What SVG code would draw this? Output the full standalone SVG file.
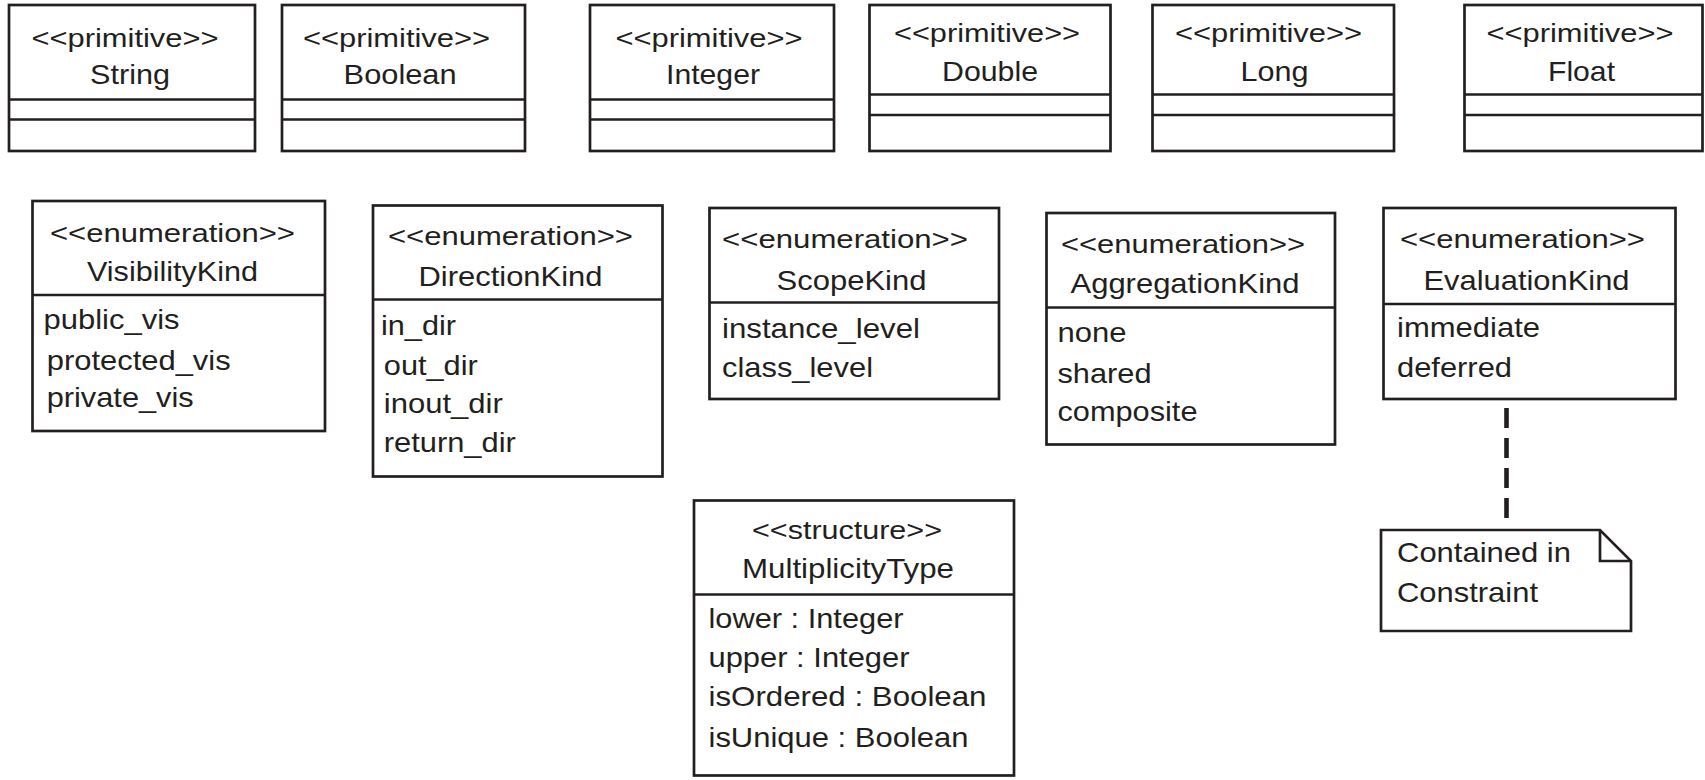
<svg xmlns="http://www.w3.org/2000/svg" width="1705" height="780" viewBox="0 0 1705 780">
  <style>
    .box { fill: #ffffff; stroke: #231f20; stroke-width: 2.7; }
    .div { fill: none; stroke: #231f20; stroke-width: 2.7; }
    text { font-family: "Liberation Sans", Arial, Helvetica, sans-serif; fill: #231f20; }
    .st { font-size: 26px; }
    .nm { font-size: 28px; }
    .at { font-size: 28px; }
    .dep { fill: none; stroke: #231f20; stroke-width: 4.6; stroke-dasharray: 20 10; }
  </style>

  <rect width="1705" height="780" fill="#ffffff"/>

  <!-- primitive types -->
  <g id="String">
    <rect class="box" x="9" y="5" width="246" height="146"/>
    <path class="div" d="M9,99.5 H255 M9,119.5 H255"/>
    <text class="st" x="31.5" y="47" textLength="187" lengthAdjust="spacingAndGlyphs">&lt;&lt;primitive&gt;&gt;</text>
    <text class="nm" x="90" y="84" textLength="80" lengthAdjust="spacingAndGlyphs">String</text>
  </g>
  <g id="Boolean">
    <rect class="box" x="282" y="5" width="243" height="146"/>
    <path class="div" d="M282,99.5 H525 M282,119.5 H525"/>
    <text class="st" x="303" y="47" textLength="187" lengthAdjust="spacingAndGlyphs">&lt;&lt;primitive&gt;&gt;</text>
    <text class="nm" x="343.6" y="84" textLength="113" lengthAdjust="spacingAndGlyphs">Boolean</text>
  </g>
  <g id="Integer">
    <rect class="box" x="590" y="5" width="244" height="146"/>
    <path class="div" d="M590,99.5 H834 M590,119.5 H834"/>
    <text class="st" x="615.5" y="47" textLength="187" lengthAdjust="spacingAndGlyphs">&lt;&lt;primitive&gt;&gt;</text>
    <text class="nm" x="666" y="84" textLength="94" lengthAdjust="spacingAndGlyphs">Integer</text>
  </g>
  <g id="Double">
    <rect class="box" x="869.5" y="5" width="241" height="146"/>
    <path class="div" d="M869.5,94.5 H1110.5 M869.5,115 H1110.5"/>
    <text class="st" x="894" y="42" textLength="186" lengthAdjust="spacingAndGlyphs">&lt;&lt;primitive&gt;&gt;</text>
    <text class="nm" x="942" y="81" textLength="96" lengthAdjust="spacingAndGlyphs">Double</text>
  </g>
  <g id="Long">
    <rect class="box" x="1152.5" y="5" width="241.5" height="146"/>
    <path class="div" d="M1152.5,94.5 H1394 M1152.5,115 H1394"/>
    <text class="st" x="1175" y="42" textLength="187" lengthAdjust="spacingAndGlyphs">&lt;&lt;primitive&gt;&gt;</text>
    <text class="nm" x="1240.5" y="81" textLength="68" lengthAdjust="spacingAndGlyphs">Long</text>
  </g>
  <g id="Float">
    <rect class="box" x="1464.5" y="5" width="238" height="146"/>
    <path class="div" d="M1464.5,94.5 H1702.5 M1464.5,115 H1702.5"/>
    <text class="st" x="1486.5" y="42" textLength="187" lengthAdjust="spacingAndGlyphs">&lt;&lt;primitive&gt;&gt;</text>
    <text class="nm" x="1548" y="81" textLength="67" lengthAdjust="spacingAndGlyphs">Float</text>
  </g>

  <!-- enumerations -->
  <g id="VisibilityKind">
    <rect class="box" x="32.5" y="201" width="292.5" height="230"/>
    <path class="div" d="M32.5,295 H325"/>
    <text class="st" x="50" y="242" textLength="245" lengthAdjust="spacingAndGlyphs">&lt;&lt;enumeration&gt;&gt;</text>
    <text class="nm" x="87" y="281" textLength="171" lengthAdjust="spacingAndGlyphs">VisibilityKind</text>
    <text class="at" x="43.5" y="329" textLength="136" lengthAdjust="spacingAndGlyphs">public_vis</text>
    <text class="at" x="46.7" y="370" textLength="184" lengthAdjust="spacingAndGlyphs">protected_vis</text>
    <text class="at" x="46.7" y="407" textLength="147" lengthAdjust="spacingAndGlyphs">private_vis</text>
  </g>
  <g id="DirectionKind">
    <rect class="box" x="373" y="205.5" width="289.5" height="271"/>
    <path class="div" d="M373,299.5 H662.5"/>
    <text class="st" x="388" y="245" textLength="245" lengthAdjust="spacingAndGlyphs">&lt;&lt;enumeration&gt;&gt;</text>
    <text class="nm" x="418.5" y="286" textLength="184" lengthAdjust="spacingAndGlyphs">DirectionKind</text>
    <text class="at" x="381" y="335" textLength="75" lengthAdjust="spacingAndGlyphs">in_dir</text>
    <text class="at" x="383.8" y="375" textLength="94" lengthAdjust="spacingAndGlyphs">out_dir</text>
    <text class="at" x="383.8" y="413" textLength="119" lengthAdjust="spacingAndGlyphs">inout_dir</text>
    <text class="at" x="383.8" y="452" textLength="132" lengthAdjust="spacingAndGlyphs">return_dir</text>
  </g>
  <g id="ScopeKind">
    <rect class="box" x="709.5" y="208" width="289.5" height="191"/>
    <path class="div" d="M709.5,302.5 H999"/>
    <text class="st" x="722" y="248" textLength="246" lengthAdjust="spacingAndGlyphs">&lt;&lt;enumeration&gt;&gt;</text>
    <text class="nm" x="776.5" y="290" textLength="150" lengthAdjust="spacingAndGlyphs">ScopeKind</text>
    <text class="at" x="722" y="338" textLength="198" lengthAdjust="spacingAndGlyphs">instance_level</text>
    <text class="at" x="722" y="377" textLength="151" lengthAdjust="spacingAndGlyphs">class_level</text>
  </g>
  <g id="AggregationKind">
    <rect class="box" x="1046.5" y="213" width="288.5" height="231.5"/>
    <path class="div" d="M1046.5,307.5 H1335"/>
    <text class="st" x="1061" y="253" textLength="244" lengthAdjust="spacingAndGlyphs">&lt;&lt;enumeration&gt;&gt;</text>
    <text class="nm" x="1070.5" y="293" textLength="229" lengthAdjust="spacingAndGlyphs">AggregationKind</text>
    <text class="at" x="1057.5" y="342" textLength="69" lengthAdjust="spacingAndGlyphs">none</text>
    <text class="at" x="1057.5" y="383" textLength="94" lengthAdjust="spacingAndGlyphs">shared</text>
    <text class="at" x="1057.5" y="421" textLength="140" lengthAdjust="spacingAndGlyphs">composite</text>
  </g>
  <g id="EvaluationKind">
    <rect class="box" x="1383.5" y="208" width="292" height="191"/>
    <path class="div" d="M1383.5,304 H1675.5"/>
    <text class="st" x="1400" y="248" textLength="245" lengthAdjust="spacingAndGlyphs">&lt;&lt;enumeration&gt;&gt;</text>
    <text class="nm" x="1423.5" y="290" textLength="206" lengthAdjust="spacingAndGlyphs">EvaluationKind</text>
    <text class="at" x="1397" y="337" textLength="143" lengthAdjust="spacingAndGlyphs">immediate</text>
    <text class="at" x="1397" y="377" textLength="115" lengthAdjust="spacingAndGlyphs">deferred</text>
  </g>

  <!-- structure -->
  <g id="MultiplicityType">
    <rect class="box" x="694" y="500.5" width="320" height="275"/>
    <path class="div" d="M694,594.5 H1014"/>
    <text class="st" x="752" y="539" textLength="190" lengthAdjust="spacingAndGlyphs">&lt;&lt;structure&gt;&gt;</text>
    <text class="nm" x="742" y="578" textLength="212" lengthAdjust="spacingAndGlyphs">MultiplicityType</text>
    <text class="at" x="708.5" y="628" textLength="195" lengthAdjust="spacingAndGlyphs">lower : Integer</text>
    <text class="at" x="708.5" y="667" textLength="201" lengthAdjust="spacingAndGlyphs">upper : Integer</text>
    <text class="at" x="708.5" y="706" textLength="278" lengthAdjust="spacingAndGlyphs">isOrdered : Boolean</text>
    <text class="at" x="708.5" y="747" textLength="260" lengthAdjust="spacingAndGlyphs">isUnique : Boolean</text>
  </g>

  <!-- note attached to EvaluationKind -->
  <g id="ConstraintNote">
    <path class="box" d="M1381,530 H1600 L1631,561 V631 H1381 Z"/>
    <path class="div" d="M1600,530 V561 H1631"/>
    <text class="at" x="1397" y="562" textLength="174" lengthAdjust="spacingAndGlyphs">Contained in</text>
    <text class="at" x="1397" y="602" textLength="141" lengthAdjust="spacingAndGlyphs">Constraint</text>
  </g>

  <!-- connectors -->
  <g id="connectors">
    <line class="dep" x1="1506.5" y1="408" x2="1506.5" y2="519"/>
  </g>
</svg>
